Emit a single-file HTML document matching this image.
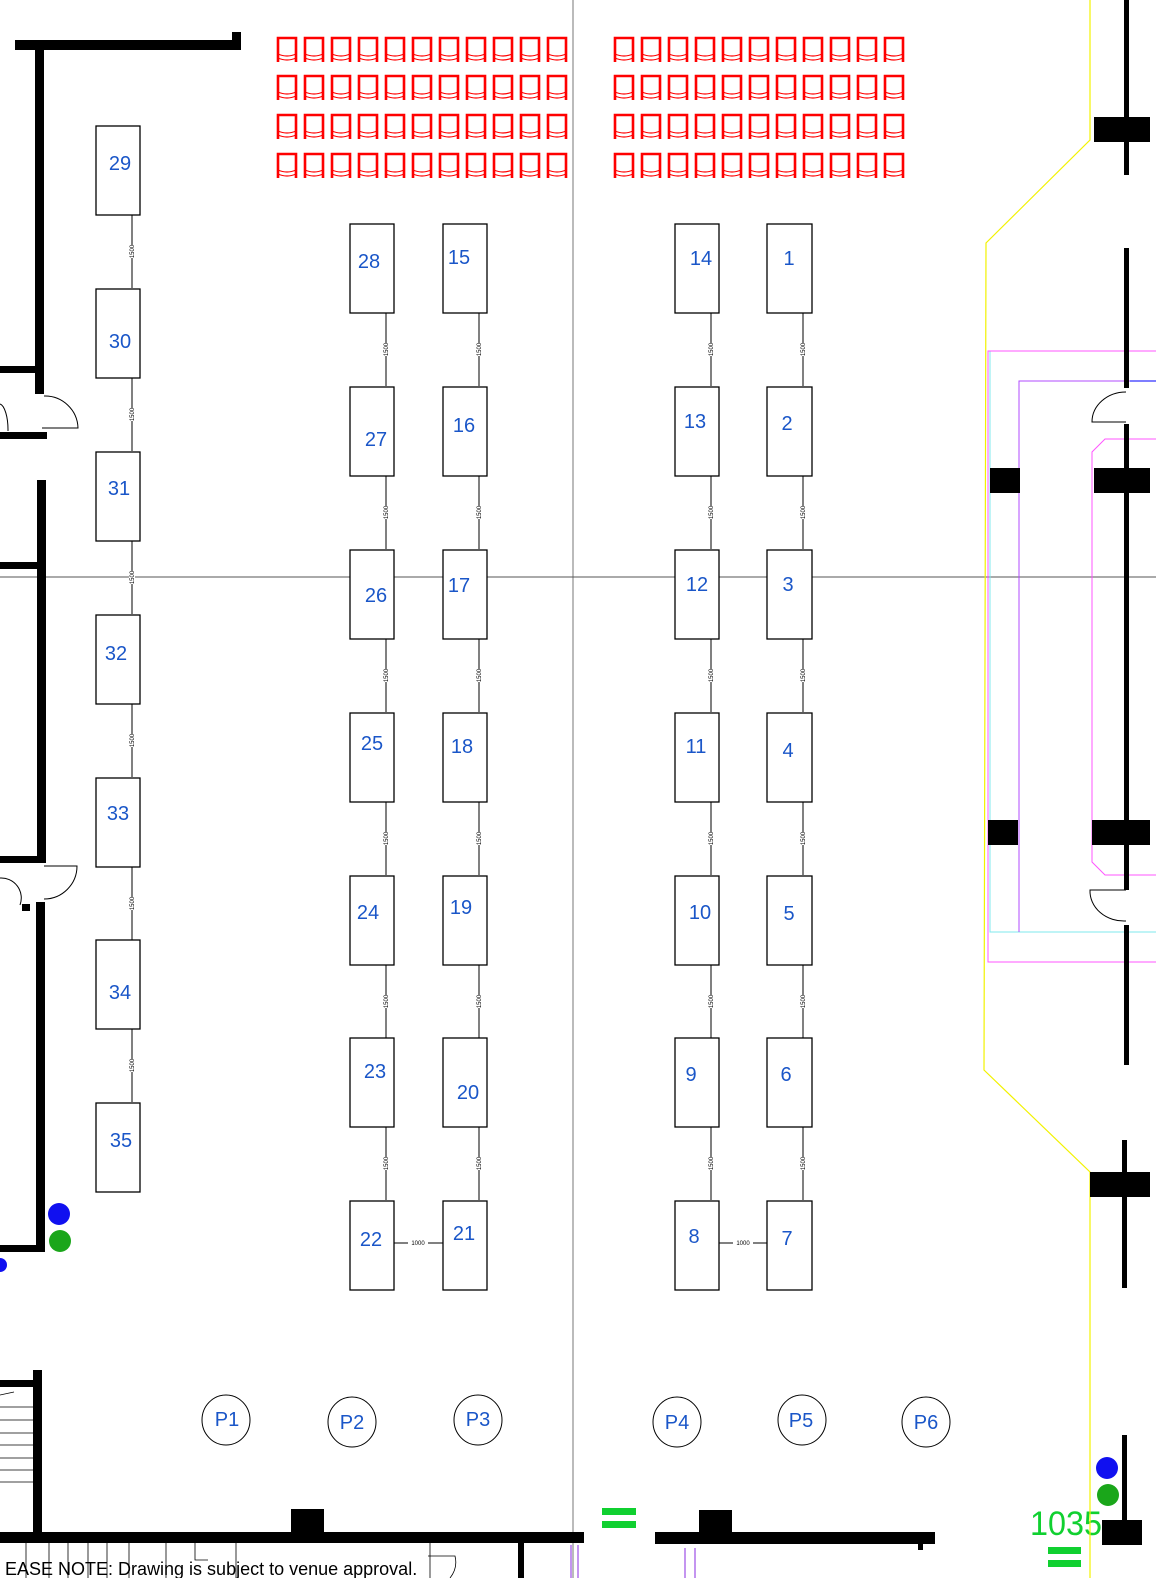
<!DOCTYPE html>
<html><head><meta charset="utf-8"><style>
html,body{margin:0;padding:0;background:#fff}
svg{display:block}
.b{fill:#fff;stroke:#000;stroke-width:1.3}
.t{font-family:"Liberation Sans",sans-serif;font-size:20px;fill:#1a56c8;text-anchor:middle}
.d{font-family:"Liberation Sans",sans-serif;font-size:6px;fill:#000;text-anchor:middle}
.dl{stroke:#000;stroke-width:1}
.w{fill:#000}
</style></head><body>
<svg width="1156" height="1578" viewBox="0 0 1156 1578" xmlns="http://www.w3.org/2000/svg">
<defs>
<g id="ch" fill="none" stroke="#f00">
<path d="M1 25 V1 H19 V25" stroke-width="2.6"/>
<path d="M1 17 Q10 21 19 17 M1 21 Q10 25 19 21" stroke-width="1.2"/>
</g>
<g id="row">
<use href="#ch" x="0"/><use href="#ch" x="27"/><use href="#ch" x="54"/><use href="#ch" x="81"/><use href="#ch" x="108"/><use href="#ch" x="135"/><use href="#ch" x="162"/><use href="#ch" x="189"/><use href="#ch" x="216"/><use href="#ch" x="243"/><use href="#ch" x="270"/>
</g>
<g id="vd"><line x1="0" y1="0" x2="0" y2="73" class="dl"/><rect x="-3" y="30" width="6" height="13" fill="#fff"/><text class="d" transform="translate(2,36.5) rotate(-90)">1500</text></g>
</defs>

<!-- crosshair -->
<line x1="573" y1="0" x2="573" y2="1578" stroke="#777" stroke-width="1"/>
<line x1="0" y1="577" x2="1156" y2="577" stroke="#555" stroke-width="1"/>

<!-- chairs -->
<use href="#row" x="277" y="37"/><use href="#row" x="277" y="75"/><use href="#row" x="277" y="114"/><use href="#row" x="277" y="153"/>
<use href="#row" x="614" y="37"/><use href="#row" x="614" y="75"/><use href="#row" x="614" y="114"/><use href="#row" x="614" y="153"/>

<!-- left walls -->
<rect class="w" x="15" y="40" width="225" height="10"/>
<rect class="w" x="232" y="32" width="9" height="18"/>
<rect class="w" x="35" y="40" width="9" height="354"/>
<rect class="w" x="0" y="366" width="38" height="7"/>
<rect class="w" x="0" y="432" width="47" height="7"/>
<path d="M44 396 A33 33 0 0 1 78 428 H42" fill="none" stroke="#000" stroke-width="1"/>
<path d="M0 404 A9 26 0 0 1 8 431" fill="none" stroke="#000" stroke-width="1"/>
<rect class="w" x="37" y="480" width="9" height="383"/>
<rect class="w" x="0" y="562" width="38" height="7"/>
<rect class="w" x="0" y="856" width="42" height="7"/>
<path d="M44 866 H77 A33 33 0 0 1 44 899" fill="none" stroke="#000" stroke-width="1"/>
<path d="M0 878 A20 20 0 0 1 20 905" fill="none" stroke="#000" stroke-width="1"/>
<rect class="w" x="22" y="904" width="8" height="7"/>
<rect class="w" x="36" y="902" width="9" height="350"/>
<rect class="w" x="0" y="1245" width="45" height="7"/>
<circle cx="59" cy="1214" r="11" fill="#1010f0"/>
<circle cx="60" cy="1241" r="11" fill="#1aa61a"/>
<circle cx="0" cy="1265" r="7" fill="#1010f0"/>

<!-- stairs bottom left -->
<rect class="w" x="33" y="1370" width="9" height="165"/>
<rect class="w" x="0" y="1380" width="35" height="7"/>
<g stroke="#000" stroke-width="0.8"><line x1="0" y1="1407" x2="33" y2="1407"/><line x1="0" y1="1420" x2="33" y2="1420"/><line x1="0" y1="1433" x2="33" y2="1433"/><line x1="0" y1="1445" x2="33" y2="1445"/><line x1="0" y1="1458" x2="33" y2="1458"/><line x1="0" y1="1470" x2="33" y2="1470"/><line x1="0" y1="1482" x2="33" y2="1482"/><line x1="0" y1="1395" x2="14" y2="1392"/></g>

<!-- bottom walls -->
<rect class="w" x="0" y="1532" width="584" height="11"/>
<rect class="w" x="291" y="1509" width="33" height="26"/>
<rect class="w" x="518" y="1540" width="6" height="38"/>
<g stroke="#000" stroke-width="0.8"><line x1="26" y1="1543" x2="26" y2="1578"/><line x1="49" y1="1543" x2="49" y2="1578"/><line x1="68" y1="1543" x2="68" y2="1578"/><line x1="88" y1="1543" x2="88" y2="1578"/><line x1="107" y1="1543" x2="107" y2="1578"/><line x1="129" y1="1543" x2="129" y2="1578"/><line x1="166" y1="1543" x2="166" y2="1578"/><line x1="236" y1="1543" x2="236" y2="1578"/><line x1="430" y1="1543" x2="430" y2="1578"/><path d="M195 1543 V1560 H208 M428 1556 H455 Q458 1568 450 1578" fill="none"/></g>
<g stroke="#8a2be2" stroke-width="1"><line x1="571" y1="1545" x2="571" y2="1578"/><line x1="578" y1="1545" x2="578" y2="1578"/><line x1="685" y1="1548" x2="685" y2="1578"/><line x1="695" y1="1548" x2="695" y2="1578"/></g>
<rect x="602" y="1508" width="34" height="7" fill="#10d030"/>
<rect x="602" y="1521" width="34" height="7" fill="#10d030"/>
<rect class="w" x="655" y="1532" width="280" height="12"/>
<rect class="w" x="699" y="1510" width="33" height="25"/>
<rect class="w" x="918" y="1540" width="5" height="10"/>
<text x="1030" y="1535" font-family="'Liberation Sans',sans-serif" font-size="34" fill="#10d030" textLength="72" lengthAdjust="spacingAndGlyphs">1035</text>
<rect x="1048" y="1547" width="33" height="7" fill="#10d030"/>
<rect x="1048" y="1560" width="33" height="7" fill="#10d030"/>
<rect class="w" x="1122" y="1435" width="5" height="90"/>
<rect class="w" x="1102" y="1520" width="40" height="25"/>
<circle cx="1107" cy="1468" r="11" fill="#1010f0"/>
<circle cx="1108" cy="1495" r="11" fill="#1aa61a"/>
<text x="5" y="1575" font-family="'Liberation Sans',sans-serif" font-size="18" fill="#000">EASE NOTE: Drawing is subject to venue approval.</text>

<!-- right side -->
<polyline points="1090,0 1090,140 986,243 984,1070 1090,1172 1090,1578" fill="none" stroke="#f2f200" stroke-width="1.2"/>
<polyline points="1156,351 990,351 990,932 1156,932" fill="none" stroke="#7fe8ee" stroke-width="1"/>
<polyline points="1156,351 988,351 988,962 1156,962" fill="none" stroke="#ff55ff" stroke-width="1" transform="translate(0,0)"/>
<polyline points="1156,381 1019,381 1019,932" fill="none" stroke="#b04bff" stroke-width="1"/>
<line x1="1130" y1="381" x2="1156" y2="381" stroke="#3030ff" stroke-width="1.2"/>
<polyline points="1156,439 1105,439 1092,452 1092,862 1105,875 1156,875" fill="none" stroke="#ff55ff" stroke-width="1"/>
<rect class="w" x="1124" y="0" width="5" height="175"/>
<rect class="w" x="1094" y="117" width="56" height="25"/>
<rect class="w" x="1124" y="248" width="5" height="140"/>
<path d="M1126 392 A34 30 0 0 0 1092 422 H1126" fill="none" stroke="#000" stroke-width="1"/>
<rect class="w" x="1124" y="424" width="5" height="466"/>
<rect class="w" x="990" y="468" width="30" height="25"/>
<rect class="w" x="1094" y="468" width="56" height="25"/>
<rect class="w" x="988" y="820" width="30" height="25"/>
<rect class="w" x="1092" y="820" width="58" height="25"/>
<path d="M1126 890 H1090 A34 30 0 0 0 1126 921" fill="none" stroke="#000" stroke-width="1"/>
<rect class="w" x="1124" y="925" width="5" height="140"/>
<rect class="w" x="1122" y="1140" width="5" height="148"/>
<rect class="w" x="1090" y="1172" width="60" height="25"/>

<!-- left column booths -->
<g>
<rect class="b" x="96" y="126" width="44" height="89"/><text class="t" x="120" y="170">29</text>
<rect class="b" x="96" y="289" width="44" height="89"/><text class="t" x="120" y="348">30</text>
<rect class="b" x="96" y="452" width="44" height="89"/><text class="t" x="119" y="495">31</text>
<rect class="b" x="96" y="615" width="44" height="89"/><text class="t" x="116" y="660">32</text>
<rect class="b" x="96" y="778" width="44" height="89"/><text class="t" x="118" y="820">33</text>
<rect class="b" x="96" y="940" width="44" height="89"/><text class="t" x="120" y="999">34</text>
<rect class="b" x="96" y="1103" width="44" height="89"/><text class="t" x="121" y="1147">35</text>
<use href="#vd" x="132" y="215"/><use href="#vd" x="132" y="378"/><use href="#vd" x="132" y="541"/><use href="#vd" x="132" y="704"/><use href="#vd" x="132" y="867"/><use href="#vd" x="132" y="1029"/>
</g>

<!-- col2 -->
<rect class="b" x="350" y="224" width="44" height="89"/><text class="t" x="369" y="268">28</text>
<rect class="b" x="350" y="387" width="44" height="89"/><text class="t" x="376" y="446">27</text>
<rect class="b" x="350" y="550" width="44" height="89"/><text class="t" x="376" y="602">26</text>
<rect class="b" x="350" y="713" width="44" height="89"/><text class="t" x="372" y="750">25</text>
<rect class="b" x="350" y="876" width="44" height="89"/><text class="t" x="368" y="919">24</text>
<rect class="b" x="350" y="1038" width="44" height="89"/><text class="t" x="375" y="1078">23</text>
<rect class="b" x="350" y="1201" width="44" height="89"/><text class="t" x="371" y="1246">22</text>
<use href="#vd" x="386" y="313"/><use href="#vd" x="386" y="476"/><use href="#vd" x="386" y="639"/><use href="#vd" x="386" y="802"/><use href="#vd" x="386" y="965"/><use href="#vd" x="386" y="1127"/>
<!-- col3 -->
<rect class="b" x="443" y="224" width="44" height="89"/><text class="t" x="459" y="264">15</text>
<rect class="b" x="443" y="387" width="44" height="89"/><text class="t" x="464" y="432">16</text>
<rect class="b" x="443" y="550" width="44" height="89"/><text class="t" x="459" y="592">17</text>
<rect class="b" x="443" y="713" width="44" height="89"/><text class="t" x="462" y="753">18</text>
<rect class="b" x="443" y="876" width="44" height="89"/><text class="t" x="461" y="914">19</text>
<rect class="b" x="443" y="1038" width="44" height="89"/><text class="t" x="468" y="1099">20</text>
<rect class="b" x="443" y="1201" width="44" height="89"/><text class="t" x="464" y="1240">21</text>
<use href="#vd" x="479" y="313"/><use href="#vd" x="479" y="476"/><use href="#vd" x="479" y="639"/><use href="#vd" x="479" y="802"/><use href="#vd" x="479" y="965"/><use href="#vd" x="479" y="1127"/>
<line x1="394" y1="1243" x2="443" y2="1243" class="dl"/><rect x="408" y="1239" width="20" height="8" fill="#fff"/><text class="d" x="418" y="1245">1000</text>
<!-- col4 -->
<rect class="b" x="675" y="224" width="44" height="89"/><text class="t" x="701" y="265">14</text>
<rect class="b" x="675" y="387" width="44" height="89"/><text class="t" x="695" y="428">13</text>
<rect class="b" x="675" y="550" width="44" height="89"/><text class="t" x="697" y="591">12</text>
<rect class="b" x="675" y="713" width="44" height="89"/><text class="t" x="696" y="753">11</text>
<rect class="b" x="675" y="876" width="44" height="89"/><text class="t" x="700" y="919">10</text>
<rect class="b" x="675" y="1038" width="44" height="89"/><text class="t" x="691" y="1081">9</text>
<rect class="b" x="675" y="1201" width="44" height="89"/><text class="t" x="694" y="1243">8</text>
<use href="#vd" x="711" y="313"/><use href="#vd" x="711" y="476"/><use href="#vd" x="711" y="639"/><use href="#vd" x="711" y="802"/><use href="#vd" x="711" y="965"/><use href="#vd" x="711" y="1127"/>
<!-- col5 -->
<rect class="b" x="767" y="224" width="45" height="89"/><text class="t" x="789" y="265">1</text>
<rect class="b" x="767" y="387" width="45" height="89"/><text class="t" x="787" y="430">2</text>
<rect class="b" x="767" y="550" width="45" height="89"/><text class="t" x="788" y="591">3</text>
<rect class="b" x="767" y="713" width="45" height="89"/><text class="t" x="788" y="757">4</text>
<rect class="b" x="767" y="876" width="45" height="89"/><text class="t" x="789" y="920">5</text>
<rect class="b" x="767" y="1038" width="45" height="89"/><text class="t" x="786" y="1081">6</text>
<rect class="b" x="767" y="1201" width="45" height="89"/><text class="t" x="787" y="1245">7</text>
<use href="#vd" x="803" y="313"/><use href="#vd" x="803" y="476"/><use href="#vd" x="803" y="639"/><use href="#vd" x="803" y="802"/><use href="#vd" x="803" y="965"/><use href="#vd" x="803" y="1127"/>
<line x1="719" y1="1243" x2="767" y2="1243" class="dl"/><rect x="733" y="1239" width="20" height="8" fill="#fff"/><text class="d" x="743" y="1245">1000</text>

<!-- pillars -->
<g fill="#fff" stroke="#000" stroke-width="1">
<ellipse cx="226" cy="1420" rx="24" ry="25"/><ellipse cx="352" cy="1422" rx="24" ry="25"/><ellipse cx="478" cy="1420" rx="24" ry="25"/>
<ellipse cx="677" cy="1422" rx="24" ry="25"/><ellipse cx="802" cy="1420" rx="24" ry="25"/><ellipse cx="926" cy="1422" rx="24" ry="25"/>
</g>
<text class="t" x="227" y="1426">P1</text><text class="t" x="352" y="1429">P2</text><text class="t" x="478" y="1426">P3</text>
<text class="t" x="677" y="1429">P4</text><text class="t" x="801" y="1427">P5</text><text class="t" x="926" y="1429">P6</text>
</svg>
</body></html>
